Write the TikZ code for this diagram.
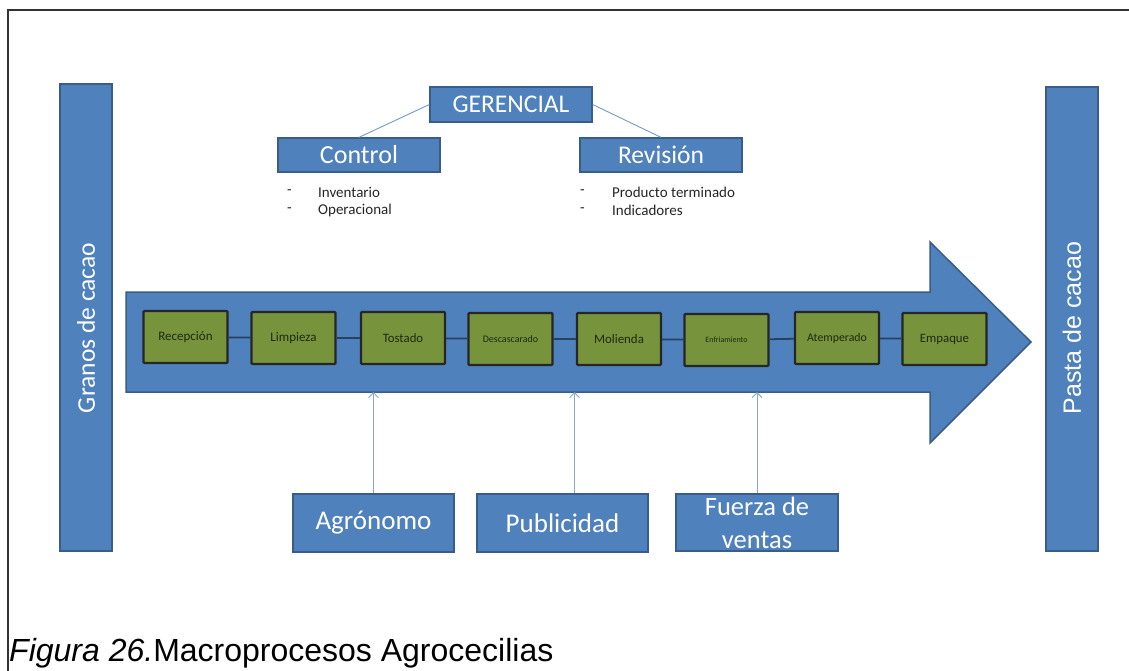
\documentclass[tikz,border=0pt]{standalone}
\usepackage{fontspec}
\setmainfont{Carlito}
\newfontfamily\arialfont{Liberation Sans}
\usetikzlibrary{arrows.meta}

\definecolor{boxblue}{HTML}{4F81BD}
\definecolor{edgeblue}{HTML}{385D8A}
\definecolor{olive}{HTML}{77933C}
\definecolor{darktext}{HTML}{1E2A10}
\definecolor{linkgray}{HTML}{8FA6C4}

\newcommand{\fs}[1]{\fontsize{#1}{#1}\selectfont}

\tikzset{
  bluebox/.style={draw=edgeblue, line width=1.3pt, fill=boxblue, text=white,
    inner sep=0pt, align=center},
  stagebox/.style={draw=black!85, line width=2.4pt, fill=olive, text=darktext,
    inner sep=0pt, minimum width=84pt, minimum height=52pt, rounded corners=1pt},
  stagelink/.style={draw=edgeblue!70!black, line width=1.8pt},
  orglink/.style={draw=boxblue!80, line width=0.9pt},
  feedarrow/.style={draw=linkgray, line width=1pt,
    -{Straight Barb[length=5pt,width=10pt,line width=1pt]}},
  bullet/.style={inner sep=0pt, anchor=west, text=black!85, font=\fs{15}},
  whitetext/.style={text=white, inner sep=0pt},
}

\begin{document}
\begin{tikzpicture}[x=1pt,y=-1pt]
\useasboundingbox (0,0) rectangle (1129,670);
\fill[white] (0,0) rectangle (1129,670);

% page frame (top and left rules)
\draw[black!80, line width=2pt] (7.5,671) -- (7.5,10) -- (1130,10);

% input and output bars
\node[bluebox, minimum width=52pt, minimum height=467pt] (in) at (86,317.5) {};
\node[whitetext, rotate=90, font=\fs{25.5}] (inlabel) at (86,328) {Granos de cacao};
\node[bluebox, minimum width=52pt, minimum height=464pt] (out) at (1072,319) {};
\node[whitetext, rotate=90, font=\arialfont\fs{25}] (outlabel) at (1072,328) {Pasta de cacao};

% main process arrow
\draw[edgeblue, line width=1.5pt, fill=boxblue, line join=miter]
  (126,292) -- (930,292) -- (930,242) -- (1031,342) -- (930,443)
  -- (930,392) -- (126,392) -- cycle;
\coordinate (s1) at (373.5,392);
\coordinate (s2) at (574.5,392);
\coordinate (s3) at (757,392);

% process stages
\node[stagebox, font=\fs{13}] (p1) at (185.5,337) {Recepción};
\node[stagebox, font=\fs{13}] (p2) at (293.5,338) {Limpieza};
\node[stagebox, font=\fs{12.8}] (p3) at (403,338) {Tostado};
\node[stagebox, font=\fs{10}] (p4) at (510.5,339) {Descascarado};
\node[stagebox, font=\fs{12.9}] (p5) at (619,339) {Molienda};
\node[stagebox, font=\fs{8}] (p6) at (726.5,340) {Enfriamiento};
\node[stagebox, font=\fs{11.8}] (p7) at (837,338) {Atemperado};
\node[stagebox, font=\fs{12.8}] (p8) at (944.5,339) {Empaque};
\foreach \a/\b in {p1/p2,p2/p3,p3/p4,p4/p5,p5/p6,p6/p7,p7/p8}
  \draw[stagelink] (\a) -- (\b);

% management level
\node[bluebox, minimum width=162pt, minimum height=35pt, font=\fs{25.5}] (ger) at (511,104.5) {GERENCIAL};
\node[bluebox, minimum width=162pt, minimum height=34pt, font=\fs{26}] (ctl) at (359,155) {Control};
\node[bluebox, minimum width=162pt, minimum height=34pt, font=\fs{25.5}] (rev) at (661,155) {Revisión};
\draw[orglink] (ger.west) -- (ctl.north);
\draw[orglink] (ger.east) -- (rev.north);

\node[bullet] (c1d) at (287,192) {-};
\node[bullet] (c1) at (318,192) {Inventario};
\node[bullet] (c2d) at (287,210) {-};
\node[bullet] (c2) at (318,210) {Operacional};
\node[bullet] (r1d) at (580,192) {-};
\node[bullet] (r1) at (612,192) {Producto terminado};
\node[bullet] (r2d) at (580,210) {-};
\node[bullet] (r2) at (612,210) {Indicadores};

% support roles
\node[bluebox, minimum width=161pt, minimum height=58pt, font=\fs{27}] (agr) at (373.5,523) {Agrónomo};
\node[bluebox, minimum width=171pt, minimum height=58pt, font=\fs{27}] (pub) at (562.5,523) {Publicidad};
\node[bluebox, minimum width=162pt, minimum height=57pt] (fza) at (757,522.5) {};
\node[whitetext, anchor=base, font=\fs{26.5}] (fza1) at (757,515) {Fuerza de};
\node[whitetext, anchor=base, font=\fs{26.5}] (fza2) at (757,548) {ventas};
\draw[feedarrow] (agr.north -| s1) -- (s1);
\draw[feedarrow] (pub.north -| s2) -- (s2);
\draw[feedarrow] (fza.north -| s3) -- (s3);

% caption
\node[anchor=base west, inner sep=0pt, font=\arialfont\fs{32}] (cap) at (9,661)
  {\textit{Figura 26.}Macroprocesos Agrocecilias};
\end{tikzpicture}
\end{document}
